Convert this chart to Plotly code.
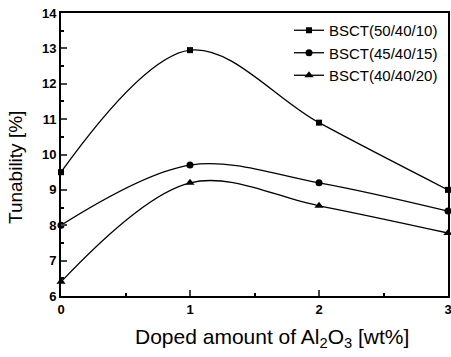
import plotly.graph_objects as go

x_vals = [0, 1, 2, 3]
s1_name = "BSCT(50/40/10)"
s1_vals = [9.5, 12.95, 10.9, 9.0]
s2_name = "BSCT(45/40/15)"
s2_vals = [8.0, 9.7, 9.2, 8.4]
s3_name = "BSCT(40/40/20)"
s3_vals = [6.4, 9.2, 8.55, 7.78]

x_title = "Doped amount of Al<sub>2</sub>O<sub>3</sub> [wt%]"
y_title = "Tunability [%]"

FONT = "Liberation Sans, Arial, sans-serif"
W, H = 451, 357
ML, MR, MT, MB = 61, 3, 13, 61

fig = go.Figure()
for name, vals, sym, sz in [(s1_name, s1_vals, "square", 6), (s2_name, s2_vals, "circle", 7), (s3_name, s3_vals, "triangle-up", 8)]:
    fig.add_trace(go.Scatter(
        x=x_vals, y=vals, name=name, mode="lines+markers",
        line=dict(color="black", width=1.3, shape="spline", smoothing=1.0),
        marker=dict(symbol=sym, size=sz, color="black"),
        cliponaxis=False,
    ))

pw = W - ML - MR
ph = H - MT - MB

def px_x(p):
    return (p - ML) / pw

def px_y(p):
    return 1 - (p - MT) / ph

fig.update_layout(
    width=W, height=H,
    margin=dict(l=ML, r=MR, t=MT, b=MB, autoexpand=False),
    paper_bgcolor="white", plot_bgcolor="white",
    font=dict(family=FONT, color="black"),
    showlegend=True,
    legend=dict(x=px_x(289), y=px_y(14), xanchor="left", yanchor="top",
                font=dict(size=15, family=FONT), bgcolor="rgba(0,0,0,0)",
                tracegroupgap=0, itemwidth=30),
    annotations=[
        dict(text=x_title, xref="paper", yref="paper", x=px_x(272), y=px_y(338),
             xanchor="center", yanchor="middle", showarrow=False,
             font=dict(size=21, family=FONT)),
        dict(text=y_title, xref="paper", yref="paper", x=px_x(15), y=px_y(168),
             xanchor="center", yanchor="middle", showarrow=False, textangle=-90,
             font=dict(size=19, family=FONT)),
    ],
)
fig.update_xaxes(
    range=[0, 3], tickmode="array", tickvals=[0, 1, 2, 3], ticktext=["0", "1", "2", "3"],
    ticks="inside", ticklen=6, tickwidth=1.5, showline=True, linecolor="black", linewidth=2,
    mirror=True, showgrid=False, zeroline=False, automargin=False, ticklabeloverflow="allow",
    minor=dict(ticks="inside", ticklen=3, dtick=0.5, tickcolor="black"),
    tickfont=dict(size=13, family=FONT, weight="bold"),
)
fig.update_yaxes(
    range=[6, 14], tickmode="array", tickvals=list(range(6, 15)),
    ticks="inside", ticklen=6, tickwidth=1.5, showline=True, linecolor="black", linewidth=2,
    mirror=True, showgrid=False, zeroline=False, automargin=False, ticklabeloverflow="allow",
    minor=dict(ticks="inside", ticklen=3, dtick=0.5, tickcolor="black"),
    tickfont=dict(size=13, family=FONT, weight="bold"),
)

fig.write_html(
    "out.html",
    config={"displayModeBar": False},
    post_script="document.body.style.margin='0';document.body.style.padding='0';"
                "document.documentElement.style.overflow='hidden';document.body.style.overflow='hidden';",
)
